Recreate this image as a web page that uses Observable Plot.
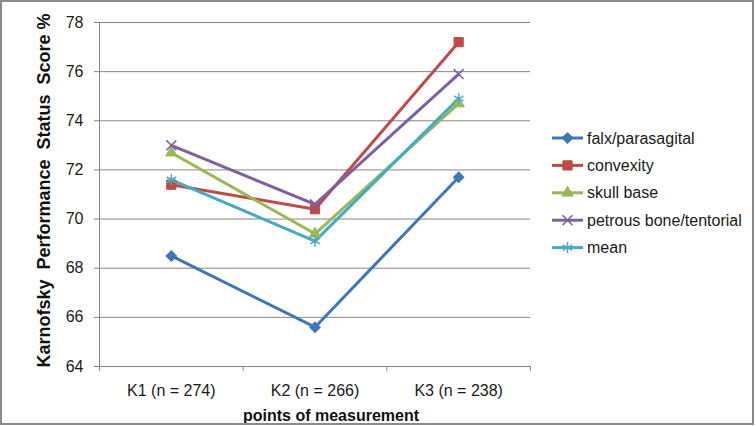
<!DOCTYPE html>
<html>
<head>
<meta charset="utf-8">
<script src="https://cdn.jsdelivr.net/npm/d3@7"></script>
<script src="https://cdn.jsdelivr.net/npm/@observablehq/plot@0.6"></script>
<style>
  html, body { margin: 0; padding: 0; background: #fff; }
  #wrap { position: relative; width: 756px; height: 426px; overflow: hidden; font-family: "Liberation Sans", Arial, sans-serif; }
  #border { position: absolute; left: 0; top: 0; width: 754px; height: 425px; box-sizing: border-box; border: 2px solid #8c8c8c; pointer-events: none; }
  #legend { position: absolute; left: 0; top: 0; }
  #chart svg { display: block; }
</style>
</head>
<body>
<div id="wrap">
  <div id="chart"></div>
  <svg id="legend" width="756" height="426"></svg>
  <div id="border"></div>
</div>
<script>
// ---- data ----
const categories = ["K1 (n = 274)", "K2 (n = 266)", "K3 (n = 238)"];
const seriesNames = ["falx/parasagital", "convexity", "skull base", "petrous bone/tentorial", "mean"];
const falx = [68.5, 65.6, 71.7];
const convexity = [71.4, 70.4, 77.2];
const skullBase = [72.7, 69.4, 74.7];
const petrous = [73.0, 70.6, 75.9];
const meanVals = [71.6, 69.1, 74.9];
const yTicks = [64, 66, 68, 70, 72, 74, 76, 78];
const yTitle = "Karnofsky\u00A0\u00A0Performance\u00A0\u00A0Status\u00A0\u00A0Score %";
const xTitle = "points of measurement";

// ---- styling (not data) ----
const colors = ["#3f76bb", "#be4b48", "#98b954", "#7d60a0", "#46aac5"];
const symbols = ["square", "square", "triangle", "times", "asterisk"];
const rotations = [45, 0, 0, 0, 0];
const radii = [4.2, 5.2, 4.2, 4.6, 5.2];
const filled = [true, true, true, false, false];

const seriesValues = [falx, convexity, skullBase, petrous, meanVals];
const rows = [];
seriesValues.forEach((vals, s) => vals.forEach((v, i) => rows.push({series: seriesNames[s], x: i + 0.5, y: v, cat: categories[i]})));

const xDomain = [0, categories.length];
const boundaries = d3.range(categories.length + 1);
const centers = categories.map((c, i) => i + 0.5);
const gray = "#868686";

const marks = [
  Plot.gridY(yTicks, {stroke: gray, strokeOpacity: 1, strokeWidth: 1}),
  Plot.ruleX([xDomain[0]], {stroke: gray, strokeWidth: 1}),
  Plot.axisY(yTicks, {tickSize: 5, tickPadding: 11, stroke: gray, label: null, fontSize: 16}),
  Plot.axisX(boundaries, {tickSize: 5, tickFormat: () => "", stroke: gray, label: null}),
  Plot.axisX(centers, {tickSize: 0, tickPadding: 18, tickFormat: (d) => categories[Math.round(d - 0.5)], label: null, fontSize: 16}),
  Plot.line(rows, {x: "x", y: "y", z: "series", stroke: "series", strokeWidth: 3, strokeLinejoin: "miter"})
];
seriesNames.forEach((name, s) => {
  const data = rows.filter(r => r.series === name);
  marks.push(Plot.dot(data, {
    x: "x", y: "y", symbol: () => symbols[s], r: radii[s], rotate: rotations[s],
    fill: filled[s] ? colors[s] : "none",
    stroke: colors[s], strokeWidth: filled[s] ? 1 : 1.5
  }));
});
marks.push(Plot.text([yTitle], {frameAnchor: "left", textAnchor: "middle", lineAnchor: "middle", rotate: -90, dx: -55, dy: -4, fontSize: 18, fontWeight: "bold", fill: "#111"}));
marks.push(Plot.text([xTitle], {frameAnchor: "bottom", textAnchor: "middle", lineAnchor: "middle", dy: 49, dx: 16, fontSize: 16, fontWeight: "bold", fill: "#111"}));

const chart = Plot.plot({
  width: 756,
  height: 426,
  marginLeft: 99,
  marginRight: 226,
  marginTop: 22,
  marginBottom: 60,
  x: {domain: xDomain, axis: null},
  y: {domain: [yTicks[0], yTicks[yTicks.length - 1]], axis: null},
  color: {domain: seriesNames, range: colors},
  symbol: {type: "identity"},
  style: {fontFamily: "'Liberation Sans', Arial, sans-serif", fontSize: "16px", color: "#1a1a1a", background: "transparent"},
  marks
});
document.getElementById("chart").appendChild(chart);

// ---- legend ----
const leg = d3.select("#legend");
const symMap = {square: d3.symbolSquare, triangle: d3.symbolTriangle, times: d3.symbolTimes, asterisk: d3.symbolAsterisk};
seriesNames.forEach((name, s) => {
  const y = 138 + s * 27.4;
  const g = leg.append("g").attr("transform", `translate(0,${y})`);
  g.append("line").attr("x1", 552).attr("x2", 583).attr("y1", 0).attr("y2", 0)
    .attr("stroke", colors[s]).attr("stroke-width", 3);
  g.append("path").attr("transform", `translate(567.5,0) rotate(${rotations[s]})`)
    .attr("d", d3.symbol(symMap[symbols[s]], radii[s] * radii[s] * Math.PI)())
    .attr("fill", filled[s] ? colors[s] : "none")
    .attr("stroke", colors[s]).attr("stroke-width", filled[s] ? 1 : 1.5);
  g.append("text").attr("x", 587).attr("y", 0).attr("dy", "0.35em")
    .attr("font-family", "'Liberation Sans', Arial, sans-serif").attr("font-size", 16)
    .attr("fill", "#1a1a1a").text(name);
});
</script>
</body>
</html>
